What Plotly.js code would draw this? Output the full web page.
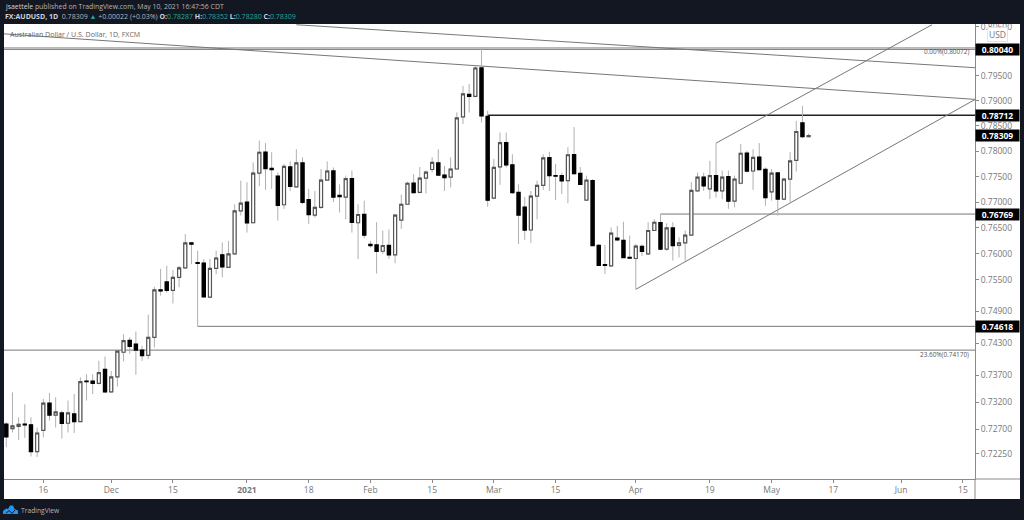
<!DOCTYPE html>
<html><head><meta charset="utf-8">
<script src="https://cdn.plot.ly/plotly-3.0.1.min.js"></script>
<style>html,body{margin:0;padding:0;background:#131722;overflow:hidden}</style>
</head><body><div id="chart" style="width:1024px;height:520px"></div>
<script>
const dates = ["2020-11-06","2020-11-09","2020-11-10","2020-11-11","2020-11-12","2020-11-13","2020-11-16","2020-11-17","2020-11-18","2020-11-19","2020-11-20","2020-11-23","2020-11-24","2020-11-25","2020-11-26","2020-11-27","2020-11-30","2020-12-01","2020-12-02","2020-12-03","2020-12-04","2020-12-07","2020-12-08","2020-12-09","2020-12-10","2020-12-11","2020-12-14","2020-12-15","2020-12-16","2020-12-17","2020-12-18","2020-12-21","2020-12-22","2020-12-23","2020-12-24","2020-12-28","2020-12-29","2020-12-30","2020-12-31","2021-01-04","2021-01-05","2021-01-06","2021-01-07","2021-01-08","2021-01-11","2021-01-12","2021-01-13","2021-01-14","2021-01-15","2021-01-18","2021-01-19","2021-01-20","2021-01-21","2021-01-22","2021-01-25","2021-01-26","2021-01-27","2021-01-28","2021-01-29","2021-02-01","2021-02-02","2021-02-03","2021-02-04","2021-02-05","2021-02-08","2021-02-09","2021-02-10","2021-02-11","2021-02-12","2021-02-15","2021-02-16","2021-02-17","2021-02-18","2021-02-19","2021-02-22","2021-02-23","2021-02-24","2021-02-25","2021-02-26","2021-03-01","2021-03-02","2021-03-03","2021-03-04","2021-03-05","2021-03-08","2021-03-09","2021-03-10","2021-03-11","2021-03-12","2021-03-15","2021-03-16","2021-03-17","2021-03-18","2021-03-19","2021-03-22","2021-03-23","2021-03-24","2021-03-25","2021-03-26","2021-03-29","2021-03-30","2021-03-31","2021-04-01","2021-04-02","2021-04-05","2021-04-06","2021-04-07","2021-04-08","2021-04-09","2021-04-12","2021-04-13","2021-04-14","2021-04-15","2021-04-16","2021-04-19","2021-04-20","2021-04-21","2021-04-22","2021-04-23","2021-04-26","2021-04-27","2021-04-28","2021-04-29","2021-04-30","2021-05-03","2021-05-04","2021-05-05","2021-05-06","2021-05-07","2021-05-10","2021-05-11"];
const open = [.7279,.7271,.7275,.7279,.7278,.7229,.7268,.7318,.7296,.7300,.7281,.7298,.7284,.7359,.7359,.7355,.7381,.7339,.7367,.7413,.7435,.7428,.7417,.7407,.7441,.7531,.7546,.7530,.7555,.7573,.7621,.7583,.7582,.7517,.7572,.7598,.7574,.7600,.7683,.7700,.7660,.7757,.7798,.7766,.7751,.7695,.7769,.7730,.7777,.7705,.7675,.7690,.7743,.7761,.7713,.7710,.7746,.7660,.7676,.7618,.7617,.7605,.7616,.7598,.7665,.7696,.7737,.7719,.7747,.7764,.7777,.7753,.7749,.7765,.7868,.7913,.7909,.7966,.7869,.7708,.7769,.7817,.7773,.7719,.7690,.7646,.7712,.7733,.7787,.7752,.7752,.7742,.7793,.7756,.7704,.7742,.7616,.7579,.7577,.7630,.7626,.7593,.7591,.7614,.7600,.7645,.7660,.7609,.7650,.7616,.7621,.7636,.7722,.7749,.7726,.7752,.7722,.7750,.7702,.7737,.7796,.7761,.7788,.7764,.7720,.7757,.7706,.7745,.7782,.7856,.78287];
const high = [.7283,.7338,.7292,.7316,.7292,.7273,.7326,.7337,.7329,.7304,.7323,.7335,.7366,.7372,.7372,.7397,.7405,.7378,.7416,.7447,.7441,.7452,.7425,.7484,.7537,.7571,.7577,.7569,.7577,.7638,.7622,.7606,.7590,.7590,.7606,.7622,.7625,.7696,.7742,.7739,.7778,.7821,.7816,.7798,.7758,.7775,.7780,.7804,.7788,.7726,.7722,.7765,.7780,.7768,.7735,.7752,.7762,.7696,.7703,.7625,.7661,.7645,.7647,.7677,.7715,.7740,.7755,.7769,.7762,.7788,.7804,.7771,.7788,.7877,.7930,.7934,.7971,.8007,.7880,.7785,.7837,.7837,.7794,.7735,.7710,.7722,.7742,.7794,.7799,.7775,.7758,.7808,.7848,.7769,.7752,.7745,.7619,.7617,.7651,.7654,.7662,.7635,.7619,.7618,.7661,.7667,.7677,.7659,.7661,.7632,.7645,.7739,.7758,.7758,.7781,.7816,.7762,.7762,.7752,.7814,.7801,.7804,.7816,.7768,.7765,.7758,.7748,.7798,.7860,.7890,.78352];
const low = [.7237,.7264,.7250,.7254,.7220,.7219,.7255,.7286,.7273,.7253,.7264,.7263,.7283,.7323,.7335,.7353,.7338,.7337,.7349,.7396,.7410,.7371,.7397,.7400,.7422,.7520,.7526,.7505,.7536,.7571,.7580,.7462,.7517,.7515,.7561,.7555,.7573,.7598,.7674,.7641,.7659,.7731,.7724,.7726,.7664,.7687,.7722,.7729,.7696,.7658,.7670,.7687,.7742,.7700,.7680,.7667,.7641,.7590,.7630,.7612,.7562,.7600,.7590,.7582,.7648,.7695,.7717,.7717,.7717,.7758,.7752,.7722,.7729,.7765,.7854,.7877,.7907,.7857,.7691,.7706,.7734,.7768,.7716,.7619,.7627,.7621,.7667,.7724,.7722,.7704,.7716,.7698,.7754,.7734,.7703,.7616,.7577,.7561,.7575,.7625,.7592,.7590,.7532,.7596,.7598,.7645,.7607,.7606,.7587,.7593,.7587,.7635,.7721,.7722,.7706,.7709,.7706,.7687,.7690,.7735,.7758,.7724,.7762,.7693,.7703,.7674,.7704,.7700,.7760,.7826,.78280];
const close = [.7256,.7276,.7279,.7278,.7229,.7263,.7318,.7296,.7302,.7281,.7300,.7284,.7358,.7358,.7355,.7375,.7339,.7367,.7415,.7435,.7424,.7417,.7407,.7441,.7531,.7529,.7530,.7555,.7573,.7621,.7619,.7582,.7518,.7572,.7592,.7575,.7600,.7683,.7698,.7660,.7757,.7798,.7766,.7764,.7694,.7770,.7731,.7777,.7700,.7676,.7690,.7743,.7761,.7710,.7711,.7746,.7661,.7676,.7636,.7616,.7605,.7616,.7598,.7675,.7696,.7737,.7719,.7747,.7759,.7778,.7753,.7748,.7765,.7866,.7914,.7909,.7966,.7870,.7704,.7768,.7817,.7773,.7719,.7675,.7646,.7712,.7733,.7787,.7752,.7751,.7742,.7793,.7756,.7735,.7743,.7616,.7578,.7578,.7640,.7627,.7593,.7592,.7615,.7605,.7645,.7661,.7609,.7650,.7616,.7621,.7636,.7723,.7749,.7732,.7752,.7722,.7749,.7702,.7745,.7796,.7761,.7788,.7764,.7709,.7757,.7706,.7745,.7781,.7839,.7829,.78309];

const yTickVals = [.805,.795,.79,.785,.78,.775,.77,.765,.76,.755,.749,.743,.737,.732,.727,.7225];
const yTickText = ["0.80500","0.79500","0.79000","0.78500","0.78000","0.77500","0.77000","0.76500","0.76000","0.75500","0.74900","0.74300","0.73700","0.73200","0.72700","0.72250"];
const xTickVals = ["2020-11-16","2020-12-01","2020-12-15","2021-01-04","2021-01-18","2021-02-01","2021-02-15","2021-03-01","2021-03-15","2021-04-01","2021-04-19","2021-05-03","2021-05-17","2021-06-01","2021-06-15"];
const xTickText = ["16","Dec","15","<b>2021</b>","18","Feb","15","Mar","15","Apr","19","May","17","Jun","15"];
const priceTags = [0.80040,0.78712,0.78309,0.76769,0.74618];
const holidays = ["2020-12-25","2021-01-01"];

const bodyHigh = open.map((o,i)=>Math.max(o,close[i]));
const bodyLow = open.map((o,i)=>Math.min(o,close[i]));
const FONT = '"Open Sans", sans-serif';
const ln = (x0,y0,x1,y1,color,width)=>({type:'line',xref:'x',yref:'y',x0,y0,x1,y1,layer:'below',line:{color,width}});
const rightEnd = "2021-06-17", leftEnd = "2020-11-05";
const PX = (x,y)=>((x-4)/971).toFixed(5)+' '+(1-(y-24)/455).toFixed(5);
const shapes = [
  {type:'rect',xref:'paper',yref:'paper',x0:0,x1:1.04634,y0:-0.04396,y1:1,layer:'below',fillcolor:'#ffffff',line:{width:0}},
  {type:'rect',xref:'paper',yref:'paper',x0:-0.01,x1:1.06,y0:1,y1:1.0527,layer:'above',fillcolor:'#131722',line:{width:0}},
  {type:'line',xref:'paper',yref:'paper',x0:1,x1:1.04634,y0:0,y1:0,layer:'above',line:{color:'#8a8a8a',width:1}},
  {type:'line',xref:'paper',yref:'paper',x0:1,x1:1,y0:-0.04396,y1:0,layer:'above',line:{color:'#8a8a8a',width:1}},
  ln(leftEnd,.80040,rightEnd,.80040,'#888888',1.4),
  ln(leftEnd,.80072,rightEnd,.80072,'#999999',0.8),
  ln(leftEnd,.7417,rightEnd,.7417,'#777777',1),
  ln("2020-12-21",.74618,rightEnd,.74618,'#777777',1),
  ln("2021-02-26",.78712,rightEnd,.78712,'#222222',1.5),
  ln("2021-04-07",.76769,rightEnd,.76769,'#777777',1),
  ln(leftEnd,.80357,rightEnd,.7903,'#777777',1),
  ln("2021-01-14",.80538,rightEnd,.79666,'#777777',1),
  ln("2021-04-01",.7532,rightEnd,.7903,'#777777',1),
  ln("2021-04-20",.7816,"2021-06-08",.80538,'#777777',1),
  // TradingView mark
  {type:'path',xref:'paper',yref:'paper',layer:'above',fillcolor:'#2196f3',line:{width:0},
   path:'M '+[[3,514],[3,511],[6,508.5],[8,509],[10,505.5],[13,505.5],[14.5,509],[18,510.5],[18,514]].map(p=>PX(p[0],p[1])).join(' L ')+' Z'},
  {type:'path',xref:'paper',yref:'paper',layer:'above',line:{color:'#131722',width:1},
   path:'M '+[[6,513.5],[9,510.5],[12,513.5],[15,510]].map(p=>PX(p[0],p[1])).join(' L ')}
];
const tag = (v)=>({xref:'paper',yref:'y',x:1,y:Math.log10(v),xanchor:'left',yanchor:'middle',xshift:0,showarrow:false,
  text:'<b>'+v.toFixed(5)+'</b>',width:43,height:11,align:'center',bgcolor:'#000000',borderpad:0,font:{family:FONT,size:8.5,color:'#ffffff'}});
const T = (px,py,text,size,color,anchor)=>({xref:'paper',yref:'paper',x:(px-4)/971,y:1-(py-24)/455,xanchor:anchor||'left',yanchor:'middle',showarrow:false,text,align:anchor||'left',font:{family:FONT,size,color}});
const G = s=>'<span style="color:#26a69a">'+s+'</span>';
const annotations = priceTags.map(tag).concat([
  T(3,7,'jsaettele <span style="color:#b2b5be">published on TradingView.com, May 10, 2021 16:47:56 CDT</span>',6.9,'#d1d4dc'),
  T(3,16.5,'<b>FX:AUDUSD, 1D</b>  <span style="color:#b2b5be">0.78309</span> '+G('▲')+' <span style="color:#b2b5be">+0.00022 (+0.03%)</span> <b>O:</b>'+G('0.78287')+' <b>H:</b>'+G('0.78352')+' <b>L:</b>'+G('0.78280')+' <b>C:</b>'+G('0.78309'),7,'#d1d4dc'),
  T(8,33.5,'Australian Dollar / U.S. Dollar, 1D, FXCM',7.05,'#666666'),
  T(971,51,'0.00%(0.80072)',6.4,'#555555','right'),
  T(971,354,'23.60%(0.74170)',6.4,'#555555','right'),
  T(19,510,'TradingView',6.7,'#b2b5be'),
  {xref:'paper',yref:'paper',x:(997.5-4)/971,y:1-(34-24)/455,xanchor:'center',yanchor:'middle',showarrow:false,text:'USD',bgcolor:'#ffffff',bordercolor:'#e0e3eb',borderwidth:1,borderpad:1,font:{family:FONT,size:8.5,color:'#787878'}}
]);

const wicks = {type:'candlestick',x:dates,open,high,low,close,
  increasing:{line:{color:'#b0b0b0',width:1},fillcolor:'rgba(0,0,0,0)'},
  decreasing:{line:{color:'#b0b0b0',width:1},fillcolor:'rgba(0,0,0,0)'},hoverinfo:'skip',showlegend:false};
const bodies = {type:'candlestick',x:dates,open,high:bodyHigh,low:bodyLow,close,
  increasing:{line:{color:'#555555',width:1.2},fillcolor:'#ffffff'},
  decreasing:{line:{color:'#000000',width:1.4},fillcolor:'#000000'},showlegend:false};

const layout = {
  width:1024,height:520,margin:{l:4,r:49,t:24,b:41,pad:0},
  paper_bgcolor:'#131722',plot_bgcolor:'#ffffff',showlegend:false,
  font:{family:FONT,size:8.5,color:'#787878'},
  xaxis:{type:'date',range:["2020-11-05 15:07","2021-06-16 23:02"],
    rangebreaks:[{bounds:['sat','mon']},{values:holidays}],
    rangeslider:{visible:false},tickmode:'array',tickvals:xTickVals,ticktext:xTickText,
    ticks:'outside',ticklen:3,tickcolor:'#8a8a8a',tickwidth:1,showgrid:false,zeroline:false,
    showline:true,linecolor:'#8a8a8a',linewidth:1,tickangle:0,tickfont:{family:FONT,size:8.5,color:'#787878'}},
  yaxis:{type:'log',side:'right',range:[-0.14394,-0.09392],tickmode:'array',tickvals:yTickVals,ticktext:yTickText,
    ticks:'outside',ticklen:3,tickcolor:'#8a8a8a',tickwidth:1,showgrid:false,zeroline:false,
    showline:true,linecolor:'#8a8a8a',linewidth:1,tickfont:{family:FONT,size:8.5,color:'#787878'}},
  shapes,annotations,hovermode:false
};
Plotly.newPlot('chart',[wicks,bodies],layout,{displayModeBar:false,staticPlot:true});
</script></body></html>
